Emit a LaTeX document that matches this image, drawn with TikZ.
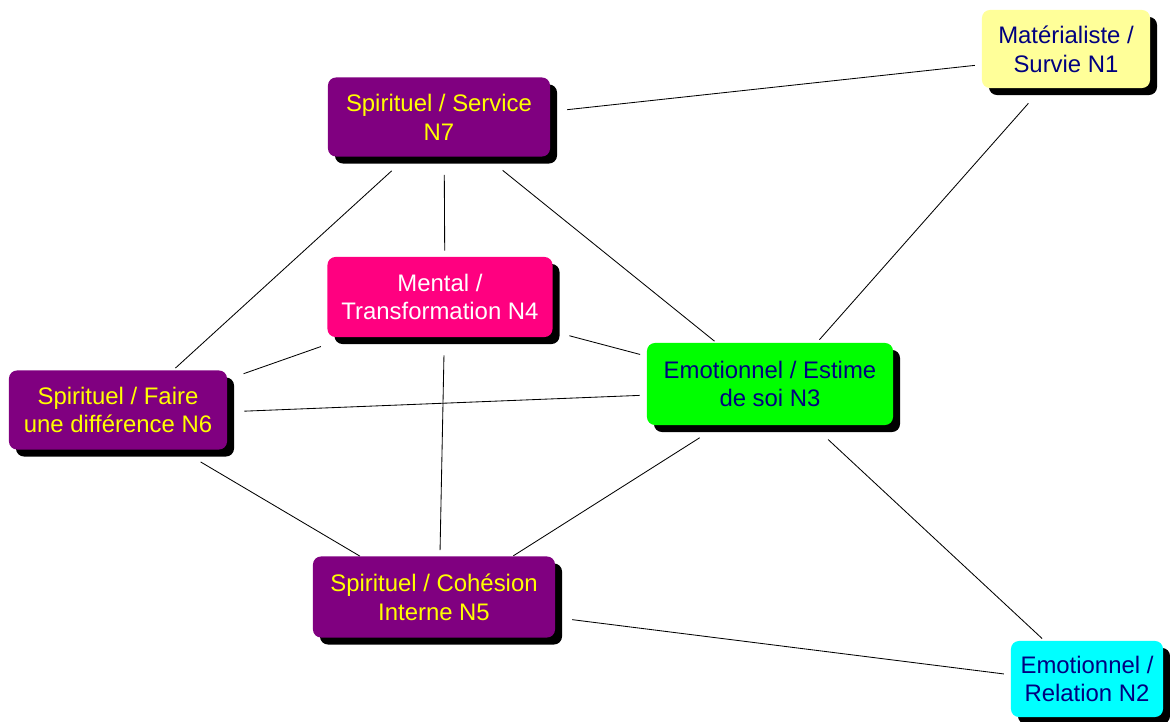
\documentclass[tikz,border=0pt]{standalone}
\usepackage{fontspec}
\setmainfont{Liberation Sans}
\usetikzlibrary{shadows}

\definecolor{violet7}{RGB}{128,0,128}
\definecolor{rose4}{RGB}{255,0,128}
\definecolor{vert3}{RGB}{0,255,0}
\definecolor{jaune1}{RGB}{255,255,153}
\definecolor{cyan2}{RGB}{0,255,255}
\definecolor{marine}{RGB}{0,0,128}
\definecolor{jaunetxt}{RGB}{255,255,0}

\begin{document}
\begin{tikzpicture}[x=0.025cm, y=-0.025cm,
  niveau/.style={rounded corners=0.2cm, align=center, inner sep=2pt,
    font=\fontsize{17}{20.5}\selectfont,
    drop shadow={shadow xshift=0.175cm, shadow yshift=-0.175cm, fill=black, opacity=1}},
  lien/.style={draw=black, line width=0.6pt, shorten >=0.3cm, shorten <=0.3cm,
    transform canvas={shift={(5,6)}}}]

  \useasboundingbox[fill=white] (0,0) rectangle (1170,722);

  % les niveaux
  \node[niveau, fill=jaune1, text=marine, minimum width=4.2cm, minimum height=1.95cm] (n1) at (1066,49) {Matérialiste /\\Survie N1};
  \node[niveau, fill=violet7, text=jaunetxt, minimum width=5.55cm, minimum height=1.975cm] (n7) at (439,117) {Spirituel / Service\\N7};
  \node[niveau, fill=rose4, text=white, minimum width=5.625cm, minimum height=2cm] (n4) at (440,297) {Mental /\\Transformation N4};
  \node[niveau, fill=vert3, text=marine, minimum width=6.15cm, minimum height=2.05cm] (n3) at (770,384) {Emotionnel / Estime\\de soi N3};
  \node[niveau, fill=violet7, text=jaunetxt, minimum width=5.45cm, minimum height=1.975cm] (n6) at (118,410) {Spirituel / Faire\\une différence N6};
  \node[niveau, fill=violet7, text=jaunetxt, minimum width=6.05cm, minimum height=2.025cm] (n5) at (434,597) {Spirituel / Cohésion\\Interne N5};
  \node[niveau, fill=cyan2, text=marine, minimum width=3.8cm, minimum height=1.9cm] (n2) at (1087,679) {Emotionnel /\\Relation N2};

  % les liens
  \draw[lien] (n7) -- (n1);
  \draw[lien] (n7) -- (n6);
  \draw[lien] (n7) -- (n4);
  \draw[lien] (n7) -- (n3);
  \draw[lien] (n1) -- (n3);
  \draw[lien] (n4) -- (n6);
  \draw[lien] (n4) -- (n3);
  \draw[lien] (n4) -- (n5);
  \draw[lien] (n6) -- (n3);
  \draw[lien] (n6) -- (n5);
  \draw[lien] (n3) -- (n5);
  \draw[lien] (n3) -- (n2);
  \draw[lien] (n5) -- (n2);
\end{tikzpicture}
\end{document}
